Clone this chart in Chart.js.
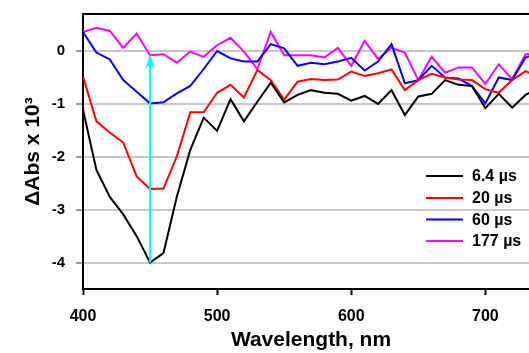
<!DOCTYPE html>
<html>
<head>
<meta charset="utf-8">
<script src="https://cdn.jsdelivr.net/npm/chart.js@4/dist/chart.umd.min.js"></script>
<style>
  html, body { margin: 0; padding: 0; background: #fff; overflow: hidden; }
  #wrap { position: relative; width: 560px; height: 353px; }
</style>
</head>
<body>
<div id="wrap"><canvas id="c" width="560" height="353"></canvas></div>
<script>
const wavelengths = [400,410,420,430,440,450,460,470,480,490,500,510,520,530,540,550,560,570,580,590,600,610,620,630,640,650,660,670,680,690,700,710,720,730,740];
const s6_4 = [-1.11,-2.25,-2.76,-3.09,-3.50,-4.00,-3.82,-2.75,-1.87,-1.26,-1.51,-0.91,-1.33,-0.96,-0.60,-0.97,-0.83,-0.74,-0.79,-0.81,-0.94,-0.85,-1.00,-0.74,-1.21,-0.86,-0.81,-0.55,-0.64,-0.66,-1.08,-0.81,-1.07,-0.83,-0.70];
const s20 = [-0.48,-1.33,-1.54,-1.73,-2.37,-2.61,-2.60,-1.99,-1.16,-1.16,-0.79,-0.64,-0.88,-0.36,-0.55,-0.92,-0.58,-0.53,-0.55,-0.54,-0.39,-0.47,-0.42,-0.35,-0.74,-0.55,-0.43,-0.50,-0.54,-0.55,-0.72,-0.79,-0.55,-0.38,-0.50];
const s60 = [0.36,-0.03,-0.16,-0.55,-0.77,-0.99,-0.97,-0.80,-0.66,-0.34,0.00,-0.14,-0.20,-0.20,0.13,0.05,-0.28,-0.22,-0.25,-0.20,-0.13,-0.37,-0.20,0.13,-0.61,-0.55,-0.28,-0.50,-0.52,-0.66,-0.99,-0.50,-0.55,-0.12,-0.05];
const s177 = [0.36,0.44,0.38,0.06,0.33,-0.08,-0.06,-0.22,-0.01,-0.11,0.11,0.25,-0.01,-0.34,0.36,-0.08,-0.08,-0.08,-0.12,0.06,-0.28,0.19,-0.15,0.06,-0.03,-0.55,-0.11,-0.41,-0.31,-0.31,-0.62,-0.25,-0.53,-0.06,-0.05];
const seriesLabels = ['6.4 \u00b5s', '20 \u00b5s', '60 \u00b5s', '177 \u00b5s'];
const seriesColors = ['#000000', '#ff0000', '#0000ff', '#ff00ff'];
const xTicks = [400, 500, 600, 700];
const yTicks = [-4, -3, -2, -1, 0];
const arrowX = [450];
const arrowY = [-4.0, -0.08];

const allSeries = [s6_4, s20, s60, s177];
const datasets = allSeries.map((vals, i) => ({
  label: seriesLabels[i],
  data: wavelengths.map((w, j) => ({ x: w, y: vals[j] })),
  borderColor: seriesColors[i],
  backgroundColor: seriesColors[i],
  borderWidth: 2,
  pointRadius: 0,
  tension: 0,
  fill: false
}));

const framePlugin = {
  id: 'frame',
  afterDraw(chart) {
    const { ctx, chartArea } = chart;
    ctx.save();
    ctx.strokeStyle = '#000';
    ctx.lineWidth = 2;
    ctx.beginPath();
    ctx.moveTo(chartArea.left - 1, chartArea.top);
    ctx.lineTo(chartArea.right + 30, chartArea.top);
    ctx.stroke();
    ctx.restore();
  }
};

const arrowPlugin = {
  id: 'arrow',
  afterDatasetsDraw(chart) {
    const { ctx, scales } = chart;
    const x = scales.x.getPixelForValue(arrowX[0]);
    const y1 = scales.y.getPixelForValue(arrowY[0]);
    const y2 = scales.y.getPixelForValue(arrowY[1]);
    ctx.save();
    ctx.strokeStyle = '#00ffff';
    ctx.fillStyle = '#00ffff';
    ctx.lineWidth = 2;
    ctx.beginPath();
    ctx.moveTo(x, y1);
    ctx.lineTo(x, y2 + 6);
    ctx.stroke();
    ctx.beginPath();
    ctx.moveTo(x, y2 - 1);
    ctx.lineTo(x - 4.5, y2 + 13);
    ctx.lineTo(x, y2 + 9);
    ctx.lineTo(x + 4.5, y2 + 13);
    ctx.closePath();
    ctx.fill();
    ctx.restore();
  }
};

const legendPlugin = {
  id: 'customLegend',
  afterDraw(chart) {
    const { ctx } = chart;
    const x0 = 426, x1 = 463, tx = 472;
    const rows = [176, 198, 219.5, 241];
    ctx.save();
    ctx.font = 'bold 16px "Liberation Sans", Arial, sans-serif';
    ctx.textBaseline = 'middle';
    ctx.textAlign = 'left';
    chart.data.datasets.forEach((ds, i) => {
      ctx.strokeStyle = ds.borderColor;
      ctx.lineWidth = 2;
      ctx.beginPath();
      ctx.moveTo(x0, rows[i]);
      ctx.lineTo(x1, rows[i]);
      ctx.stroke();
      ctx.fillStyle = '#000';
      ctx.fillText(ds.label, tx, rows[i] + 1);
    });
    ctx.restore();
  }
};

new Chart(document.getElementById('c'), {
  type: 'line',
  data: { datasets },
  plugins: [framePlugin, arrowPlugin, legendPlugin],
  options: {
    responsive: false,
    animation: false,
    layout: { padding: { top: 14, right: 21, bottom: 0, left: 0 } },
    plugins: { legend: { display: false }, tooltip: { enabled: false } },
    scales: {
      x: {
        type: 'linear',
        min: 400,
        max: 740,
        afterBuildTicks(scale) { scale.ticks = xTicks.map(v => ({ value: v })); },
        afterFit(scale) { scale.height = 64; scale.paddingLeft = 0; scale.paddingRight = 0; },
        grid: { display: true, drawOnChartArea: false, drawTicks: true, tickLength: 6, tickColor: '#000', tickWidth: 2 },
        border: { display: true, color: '#000', width: 2 },
        ticks: {
          color: '#000',
          padding: 12,
          maxRotation: 0,
          font: { family: '"Liberation Sans", Arial, sans-serif', size: 16, weight: 'bold' }
        },
        title: {
          display: true,
          text: 'Wavelength, nm',
          color: '#000',
          padding: { top: 0, bottom: 0 },
          font: { family: '"Liberation Sans", Arial, sans-serif', size: 21, weight: 'bold' }
        }
      },
      y: {
        min: -4.5,
        max: 0.7,
        afterBuildTicks(scale) { scale.ticks = yTicks.map(v => ({ value: v })); },
        afterFit(scale) { scale.width = 83; scale.paddingTop = 0; scale.paddingBottom = 0; },
        grid: { display: true, color: '#c8c8c8', lineWidth: 2, drawTicks: true, tickLength: 7, tickColor: '#999' },
        border: { display: true, color: '#000', width: 2 },
        ticks: {
          color: '#000',
          padding: 11,
          font: { family: '"Liberation Sans", Arial, sans-serif', size: 15, weight: 'bold' }
        },
        title: {
          display: true,
          text: '\u0394Abs x 10\u00b3',
          color: '#000',
          padding: { top: 21, bottom: 0 },
          font: { family: '"Liberation Sans", Arial, sans-serif', size: 21, weight: 'bold' }
        }
      }
    }
  }
});
</script>
</body>
</html>
